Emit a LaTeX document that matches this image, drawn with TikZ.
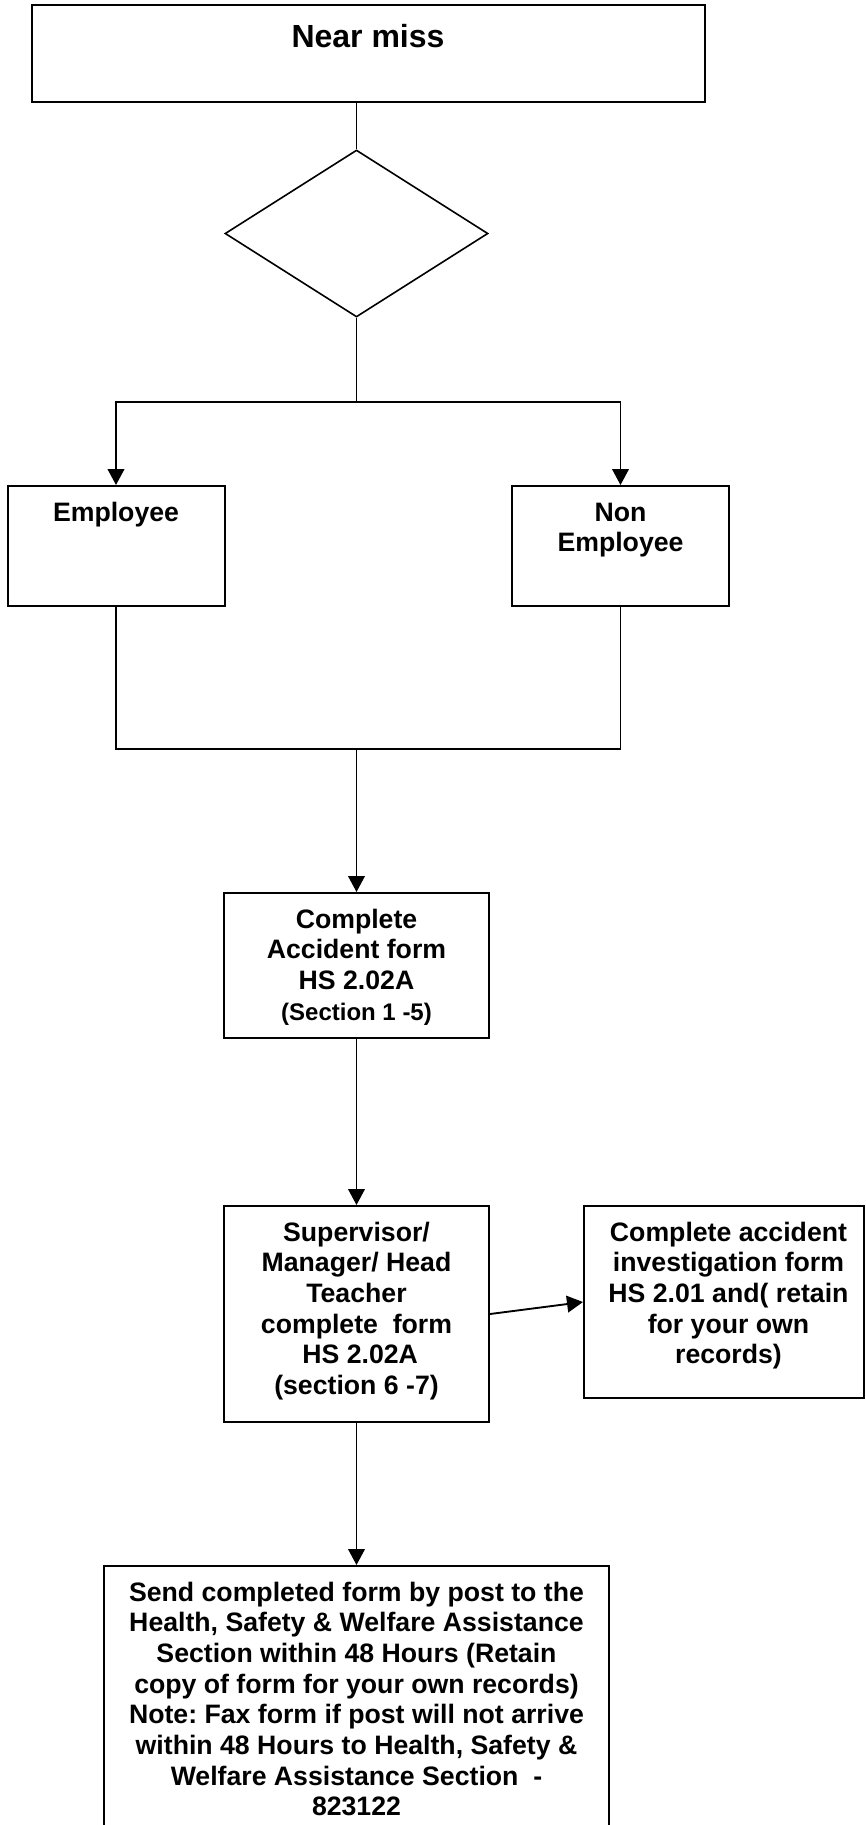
\documentclass[tikz,border=0pt]{standalone}
\usepackage{fontspec}
\setmainfont{Liberation Sans}
\usetikzlibrary{shapes.geometric,arrows.meta}
\newdimen\upx \upx=0.75pt
\frenchspacing
\begin{document}
\begin{tikzpicture}[x=0.75pt,y=-0.75pt,
  box/.style 2 args={draw, rectangle, line width=1.5pt, inner sep=0pt,
    minimum width=#1\upx, minimum height=#2\upx},
  txt/.style={font=\bfseries\fontsize{20}{23}\selectfont, align=center,
    anchor=north, inner sep=0pt},
  link/.style={line width=1.4pt},
  arr/.style={link, -{Triangle[length=12pt,width=12.5pt]}}]
\useasboundingbox (0,0) rectangle (865,1825);
\clip (0,0) rectangle (865,1825);

% boxes
\node[box={673}{97}, line width=1.3pt] (nm) at (368.5,53.5) {};
\node[draw, diamond, line width=1.2pt, inner sep=0pt,
      minimum width=263\upx, minimum height=167\upx] (dec) at (356.5,233.5) {};
\node[box={217}{120}] (emp) at (116,546) {};
\node[box={217}{120}] (non) at (620.5,546) {};
\node[box={265}{145}] (cmp) at (356.5,965.5) {};
\node[box={265}{216}] (sup) at (356.5,1314) {};
\node[box={279.5}{192}] (inv) at (723.75,1302) {};
\node[box={505}{264}] (send) at (356.5,1698) {};

% texts
\node[txt, font=\bfseries\fontsize{24}{28.8}\selectfont] (tnm) at (368,20) {\strut Near miss};
\node[txt] (temp) at (116,499.5) {\strut Employee};
\node[txt] (tnon) at (620.5,499.5) {\strut Non\\Employee};
\node[txt] (tcmp) at (356.5,906.5) {\strut Complete\\Accident form\\HS 2.02A\\{\fontsize{18}{23}\selectfont (Section 1 -5)}};
\node[txt] (tsup) at (356.5,1219.5) {\strut Supervisor/\\Manager/ Head\\Teacher\\complete\ \ form\\\hspace*{5.5pt}HS 2.02A\\(section 6 -7)};
\node[txt] (tinv) at (728.5,1219.5) {\strut Complete accident\\investigation form\\HS 2.01 and( retain\\for your own\\records)};
\node[txt] (tsend) at (356.5,1579.5) {\strut Send completed form by post to the\\Health, Safety \& Welfare Assistance\\Section within 48 Hours (Retain\\copy of form for your own records)\\Note: Fax form if post will not arrive\\within 48 Hours to Health, Safety \&\\Welfare Assistance Section\ \ -\\823122};

% junction points
\coordinate (split) at (356.5,402);
\coordinate (merge) at (356.5,749);

% connectors
\draw[link] (dec.north |- nm.south) -- (dec.north);
\draw[arr] (dec.south) -- (split) -| (emp.north);
\draw[arr] (split) -| (non.north);
\draw[link] (emp.south) |- (merge);
\draw[link] (non.south) |- (merge);
\draw[arr] (merge) -- (cmp.north);
\draw[arr] (cmp.south) -- (sup.north);
\draw[arr] (sup.east) -- (inv.west);
\draw[arr] (sup.south) -- (send.north);
\end{tikzpicture}
\end{document}
